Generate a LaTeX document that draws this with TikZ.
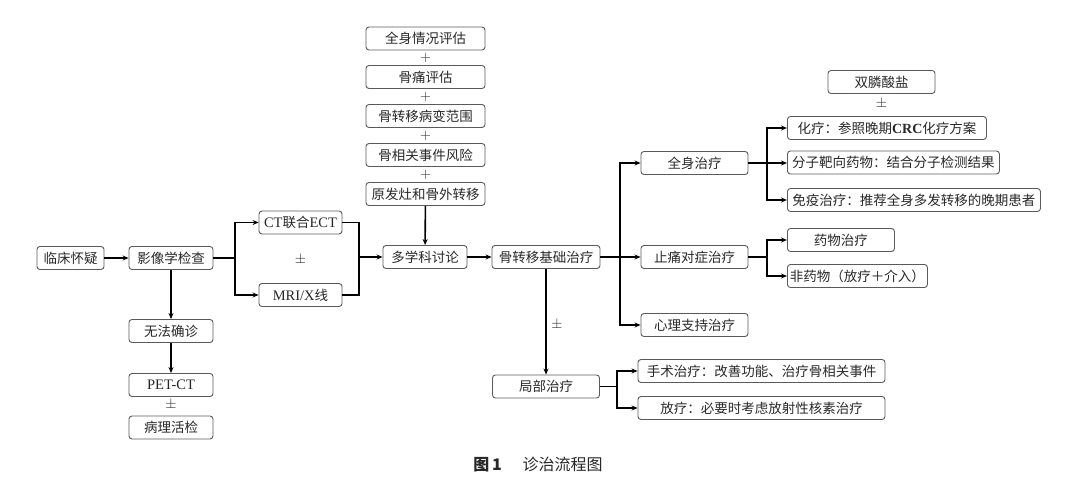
\documentclass[tikz,border=0pt]{standalone}
\usepackage{fontspec}
\setmainfont{Liberation Serif}
\newfontfamily\cjk{Noto Sans CJK SC}
\usetikzlibrary{arrows.meta}
\newcommand\entxt[1]{{\rmfamily\fontsize{14.5}{15}\selectfont #1}}
\definecolor{boxgray}{RGB}{90,90,90}
\definecolor{txtgray}{RGB}{40,40,40}
\begin{document}
\begin{tikzpicture}[x=1pt,y=-1pt,
    box/.style={draw=boxgray, line width=0.9pt, rounded corners=3pt, minimum height=23pt,
      inner sep=1pt, text=txtgray, font=\cjk\fontsize{13.5}{15}\selectfont},
    lbox/.style={box, anchor=west, align=left},
    sign/.style={text=txtgray, font=\fontsize{14}{15}\selectfont},
    arr/.style={-{Stealth[length=6pt,width=5pt]}, line width=1.6pt},
    ln/.style={line width=1.6pt}]
  \useasboundingbox (0,0) rectangle (1080,489);

  % diagnosis
  \node[box, minimum width=67pt] (susp) at (70.5,258) {临床怀疑};
  \node[box, minimum width=84pt] (imag) at (171,258) {影像学检查};
  \node[box, minimum width=83pt] (ctect) at (300.5,222.5) {\entxt{CT}联合\entxt{ECT}};
  \node[sign] (pm1) at (300.5,260) {$\pm$};
  \node[box, minimum width=83pt] (mri) at (300.5,295) {\entxt{MRI/X}线};
  \node[box, minimum width=84pt] (nodx) at (171,331) {无法确诊};
  \node[box, minimum width=84pt] (pet) at (171,385) {\entxt{PET-CT}};
  \node[sign] (pm2) at (171,405) {$\pm$};
  \node[box, minimum width=84pt] (path) at (171,427.5) {病理活检};

  % evaluation
  \node[box, minimum width=119pt] (eval1) at (425.5,38.5) {全身情况评估};
  \node[sign] (plus1) at (425.5,58) {$+$};
  \node[box, minimum width=119pt] (eval2) at (425.5,77) {骨痛评估};
  \node[sign] (plus2) at (425.5,97) {$+$};
  \node[box, minimum width=119pt] (eval3) at (425.5,116) {骨转移病变范围};
  \node[sign] (plus3) at (425.5,136) {$+$};
  \node[box, minimum width=119pt] (eval4) at (425.5,155) {骨相关事件风险};
  \node[sign] (plus4) at (425.5,175) {$+$};
  \node[box, minimum width=119pt] (eval5) at (425.5,194) {原发灶和骨外转移};
  \node[box, minimum width=84pt] (mdt) at (425,257) {多学科讨论};

  % treatment
  \node[box, minimum width=108pt] (base) at (546,257) {骨转移基础治疗};
  \node[box, minimum width=107pt] (sys) at (694.5,163) {全身治疗};
  \node[box, minimum width=107pt] (pain) at (694.5,257) {止痛对症治疗};
  \node[box, minimum width=107pt] (psy) at (694.5,325) {心理支持治疗};
  \node[box, minimum width=107pt] (local) at (546,386.5) {局部治疗};
  \node[sign] (pm3) at (557,325) {$\pm$};

  \node[box, minimum width=107pt] (bisp) at (881.5,82) {双膦酸盐};
  \node[sign] (pm4) at (881.5,104) {$\pm$};
  \node[lbox, minimum width=199pt] (chemo) at (787,128) {化疗：参照晚期{\rmfamily\bfseries\fontsize{14}{15}\selectfont CRC}化疗方案};
  \node[lbox, minimum width=212pt] (target) at (787,162.5) {分子靶向药物：结合分子检测结果};
  \node[lbox, minimum width=253pt] (immu) at (787,200) {免疫治疗：推荐全身多发转移的晚期患者};
  \node[box, minimum width=107pt, anchor=west] (drug) at (787,240) {药物治疗};
  \node[lbox, minimum width=140pt] (nondrug) at (787,276) {非药物（放疗＋介入）};
  \node[box, minimum width=247pt] (surg) at (761.5,371) {手术治疗：改善功能、治疗骨相关事件};
  \node[box, minimum width=247pt] (radio) at (761.5,408) {放疗：必要时考虑放射性核素治疗};

  % junctions
  \coordinate (j1) at (235,258);
  \coordinate (j2) at (359,257);
  \coordinate (j3) at (620,257);
  \coordinate (j4) at (617,386.5);
  \coordinate (j5) at (767,163);
  \coordinate (j6) at (767,257);

  \draw[arr] (susp) -- (imag);
  \draw[ln] (imag) -- (j1);
  \draw[arr] (j1) |- (ctect.west);
  \draw[arr] (j1) |- (mri.west);
  \draw[arr] (imag) -- (nodx);
  \draw[arr] (nodx) -- (pet);
  \draw[ln] (ctect.east) -| (j2);
  \draw[ln] (mri.east) -| (j2);
  \draw[arr] (j2) -- (mdt);
  \draw[arr] (eval5) -- (mdt);
  \draw[arr] (mdt) -- (base);
  \draw[ln] (base) -- (j3);
  \draw[arr] (j3) |- (sys.west);
  \draw[arr] (j3) -- (pain);
  \draw[arr] (j3) |- (psy.west);
  \draw[arr] (base) -- (local);
  \draw[ln] (local) -- (j4);
  \draw[arr] (j4) |- (surg.west);
  \draw[arr] (j4) |- (radio.west);
  \draw[ln] (sys) -- (j5);
  \draw[arr] (j5) |- (chemo.west);
  \draw[arr] (j5) -- (target.west |- j5);
  \draw[arr] (j5) |- (immu.west);
  \draw[ln] (pain) -- (j6);
  \draw[arr] (j6) |- (drug.west);
  \draw[arr] (j6) |- (nondrug.west);

  \node[text=txtgray, font=\cjk\fontsize{16}{18}\selectfont] (cap) at (538,465)
    {\textbf{图\,1}\hspace{1.3em}诊治流程图};
\end{tikzpicture}
\end{document}
